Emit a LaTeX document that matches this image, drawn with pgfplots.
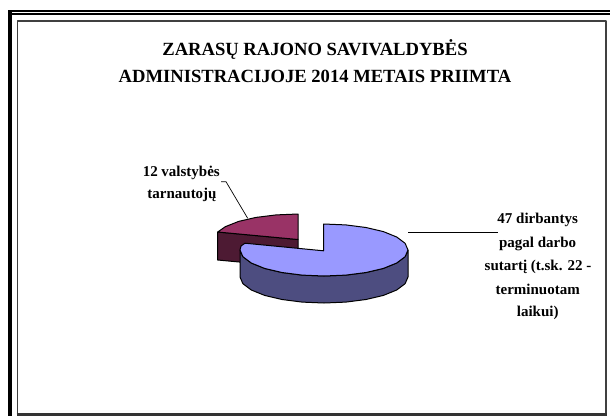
\documentclass[border=0pt]{standalone}
\usepackage{pgfplots}
\pgfplotsset{compat=1.18}
\usepackage{fontspec}
\setmainfont{Liberation Serif}
\definecolor{bluetop}{HTML}{9999FF}
\definecolor{bluewall}{HTML}{4D4D80}
\definecolor{redtop}{HTML}{993366}
\definecolor{redwall}{HTML}{4D1A33}
\newcommand{\tfont}{\bfseries\fontsize{18.6pt}{20pt}\selectfont}
\newcommand{\lfont}{\bfseries\fontsize{15pt}{17pt}\selectfont}
\begin{document}
\begin{tikzpicture}[x=1pt,y=1pt]
\useasboundingbox (0,0) rectangle (610,416);
\begin{axis}[
  at={(0,0)},anchor=south west,
  scale only axis,width=610pt,height=416pt,
  xmin=0,xmax=610,ymin=0,ymax=416,y dir=reverse,
  hide axis,clip=true,
  every axis plot/.append style={line join=round}]
% frame
\addplot[black,line width=1.7pt,forget plot] coordinates {(610,10.8)(8,10.8)};
\addplot[black,line width=2.6pt,forget plot] coordinates {(610,14)(12,14)};
\addplot[black,line width=4.4pt,forget plot] coordinates {(10.1,10)(10.1,416)};
\addplot[black!75,line width=1.4pt,forget plot] coordinates {(17.2,412.8)(17.2,20.8)(605.8,20.8)(605.8,416)};
\addplot[black!80,line width=3.4pt,forget plot] coordinates {(16.5,414.4)(606.5,414.4)};
% 12 slice
\addplot[fill=redwall,draw=black,line width=1pt,forget plot] coordinates {(217.7,232)(298,239.5)(298,267.5)(217.7,260)} --cycle;
\addplot[fill=redtop,draw=black,line width=1pt,forget plot] coordinates {(298,239.5)(298,214)(276.2,214.9)(256,217.4)(238.6,221.4)(225.3,226.7)(217.7,232)} --cycle;
% 47 slice wall
\addplot[fill=bluewall,draw=black,line width=1pt,forget plot] coordinates {(240,250)(240,277)(242.9,283.7)(251.3,290)(264.6,295.4)(282,299.5)(302.2,302.1)(324,303)(345.8,302.1)(366,299.5)(383.4,295.4)(396.7,290)(405.1,283.7)(408,277)(408,250)(405.1,256.7)(396.7,263)(383.4,268.4)(366,272.5)(345.8,275.1)(324,276)(302.2,275.1)(282,272.5)(264.6,268.4)(251.3,263)(242.9,256.7)} --cycle;
% 47 slice top
\addplot[fill=bluetop,draw=black,line width=1pt,forget plot] coordinates {(323.5,250.8)(323.5,224)(345.8,224.9)(366,227.5)(383.4,231.6)(396.7,237)(405.1,243.3)(408,250)(405.1,256.7)(396.7,263)(383.4,268.4)(366,272.5)(345.8,275.1)(324,276)(302.2,275.1)(282,272.5)(264.6,268.4)(251.3,263)(242.9,256.7)(240,250)(241,246)(245,243.2)} --cycle;
% leaders
\addplot[black,line width=0.7pt,forget plot] coordinates {(247.7,218.3)(226,181.7)(221,181.7)};
\addplot[black,line width=1.3pt,forget plot] coordinates {(408.3,232.7)(497.7,232.7)};
\node[inner sep=0pt,anchor=base] at (axis cs:315,55) {\tfont ZARASŲ RAJONO SAVIVALDYBĖS};
\node[inner sep=0pt,anchor=base] at (axis cs:315,82.7) {\tfont ADMINISTRACIJOJE 2014 METAIS PRIIMTA};
\node[inner sep=0pt,anchor=base] at (axis cs:181.3,176) {\lfont 12 valstybės};
\node[inner sep=0pt,anchor=base] at (axis cs:182,198.3) {\lfont tarnautojų};
\node[inner sep=0pt,anchor=base] at (axis cs:537.7,223.3) {\lfont 47 dirbantys};
\node[inner sep=0pt,anchor=base] at (axis cs:537.7,247.3) {\lfont pagal darbo};
\node[inner sep=0pt,anchor=base] at (axis cs:538,270.7) {\lfont sutartį (t.sk. 22 -};
\node[inner sep=0pt,anchor=base] at (axis cs:537.7,294.3) {\lfont terminuotam};
\node[inner sep=0pt,anchor=base] at (axis cs:537.7,316.7) {\lfont laikui)};
\end{axis}
\end{tikzpicture}
\end{document}
